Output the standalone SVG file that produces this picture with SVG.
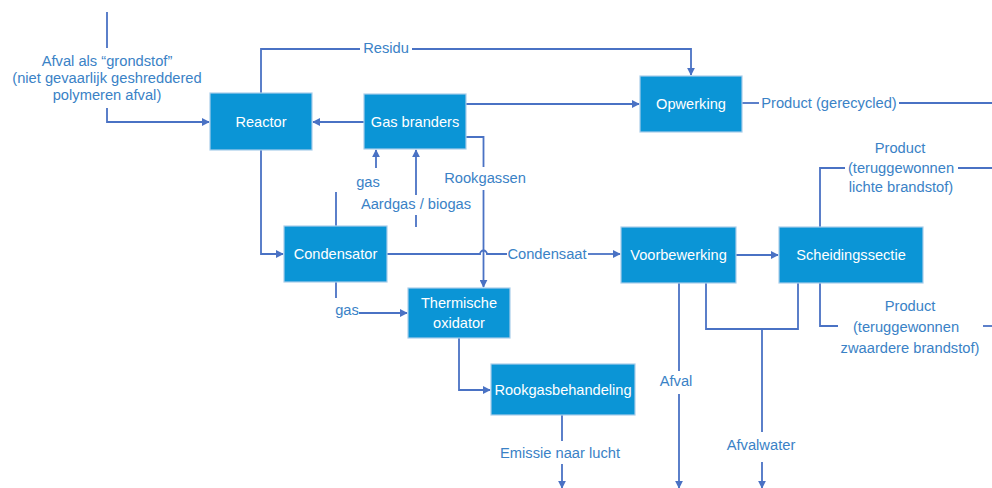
<svg xmlns="http://www.w3.org/2000/svg" width="992" height="488" viewBox="0 0 992 488">
<style>
.box{fill:#0b95d6;stroke:#a9cdea;stroke-width:1.2}
.bt{font-family:"Liberation Sans",Arial,sans-serif;font-size:14.6px;fill:#ffffff;text-anchor:middle;dominant-baseline:central}
.lbl{font-family:"Liberation Sans",Arial,sans-serif;font-size:14.7px;fill:#3a82c6;text-anchor:middle}
.ln{fill:none;stroke:#4a72c4;stroke-width:1.8}
.ar{marker-end:url(#ah)}
</style>
<defs>
<marker id="ah" viewBox="0 0 10 10" refX="9" refY="5" markerWidth="8" markerHeight="8" markerUnits="userSpaceOnUse" orient="auto">
<path d="M0,0 L10,5 L0,10 Z" fill="#4a72c4"/>
</marker>
</defs>
<rect width="992" height="488" fill="#ffffff"/>
<g id="connectors">
<path class="ln" d="M107,12 V48"/>
<path class="ln ar" d="M107,108 V122 H209"/>
<path class="ln" d="M261,93 V49 H360"/>
<path class="ln ar" d="M412,49 H691 V75"/>
<path class="ln ar" d="M364,122 H313"/>
<path class="ln ar" d="M466,104 H639"/>
<path class="ln" d="M466,137 H483.5 V167"/>
<path class="ln ar" d="M483.5,190 V287"/>
<path class="ln ar" d="M376,168 V150"/>
<path class="ln ar" d="M416,195 V150"/>
<path class="ln" d="M416,215 V227"/>
<path class="ln" d="M336,192 V226"/>
<path class="ln ar" d="M261,150 V254 H283"/>
<path class="ln" d="M387,254 H480 A3.5,3.5 0 0 1 487,254 H507"/>
<path class="ln ar" d="M588,254 H620"/>
<path class="ln" d="M336,282 V298"/>
<path class="ln ar" d="M359,313 H407"/>
<path class="ln ar" d="M459,338 V390 H490"/>
<path class="ln" d="M562,415 V441"/>
<path class="ln ar" d="M562,464 V488"/>
<path class="ln ar" d="M736,255 H778"/>
<path class="ln" d="M742,103 H759"/>
<path class="ln" d="M899,103 H992"/>
<path class="ln" d="M820,227 V168 H845"/>
<path class="ln" d="M958,168 H992"/>
<path class="ln" d="M820,283 V326 H838"/>
<path class="ln" d="M983,326 H992"/>
<path class="ln" d="M679,283 V371"/>
<path class="ln ar" d="M679,394 V488"/>
<path class="ln" d="M706,283 V329 H798 V283"/>
<path class="ln" d="M762,329 V432"/>
<path class="ln ar" d="M762,462 V488"/>
</g>
<g id="labels">
<text class="lbl" x="107" y="66">Afval als “grondstof”</text>
<text class="lbl" x="107" y="83">(niet gevaarlijk geshreddered</text>
<text class="lbl" x="107" y="100">polymeren afval)</text>
<text class="lbl" x="386" y="53">Residu</text>
<text class="lbl" x="368" y="187">gas</text>
<text class="lbl" x="416" y="209">Aardgas / biogas</text>
<text class="lbl" x="485" y="183">Rookgassen</text>
<text class="lbl" x="547" y="259">Condensaat</text>
<text class="lbl" x="347" y="315">gas</text>
<text class="lbl" x="829" y="108">Product (gerecycled)</text>
<text class="lbl" x="900" y="153">Product</text>
<text class="lbl" x="901" y="173">(teruggewonnen</text>
<text class="lbl" x="901" y="192">lichte brandstof)</text>
<text class="lbl" x="910" y="311">Product</text>
<text class="lbl" x="906" y="332">(teruggewonnen</text>
<text class="lbl" x="910" y="353">zwaardere brandstof)</text>
<text class="lbl" x="676" y="386">Afval</text>
<text class="lbl" x="761" y="450">Afvalwater</text>
<text class="lbl" x="560" y="458">Emissie naar lucht</text>
</g>
<g id="reactor"><rect class="box" x="210" y="93" width="102" height="57"/><text class="bt" x="261" y="122">Reactor</text></g>
<g id="gas-branders"><rect class="box" x="364" y="94" width="102" height="55"/><text class="bt" x="415" y="122">Gas branders</text></g>
<g id="opwerking"><rect class="box" x="640" y="76" width="102" height="56"/><text class="bt" x="691" y="104">Opwerking</text></g>
<g id="condensator"><rect class="box" x="284" y="226" width="103" height="56"/><text class="bt" x="335.5" y="254">Condensator</text></g>
<g id="thermische-oxidator"><rect class="box" x="408" y="288" width="102" height="50"/><text class="bt" x="459" y="303">Thermische</text><text class="bt" x="459" y="323">oxidator</text></g>
<g id="voorbewerking"><rect class="box" x="621" y="227" width="115" height="56"/><text class="bt" x="678.5" y="255">Voorbewerking</text></g>
<g id="scheidingssectie"><rect class="box" x="779" y="227" width="144" height="56"/><text class="bt" x="851" y="255">Scheidingssectie</text></g>
<g id="rookgasbehandeling"><rect class="box" x="491" y="364" width="144" height="51"/><text class="bt" x="563" y="390">Rookgasbehandeling</text></g>
</svg>
